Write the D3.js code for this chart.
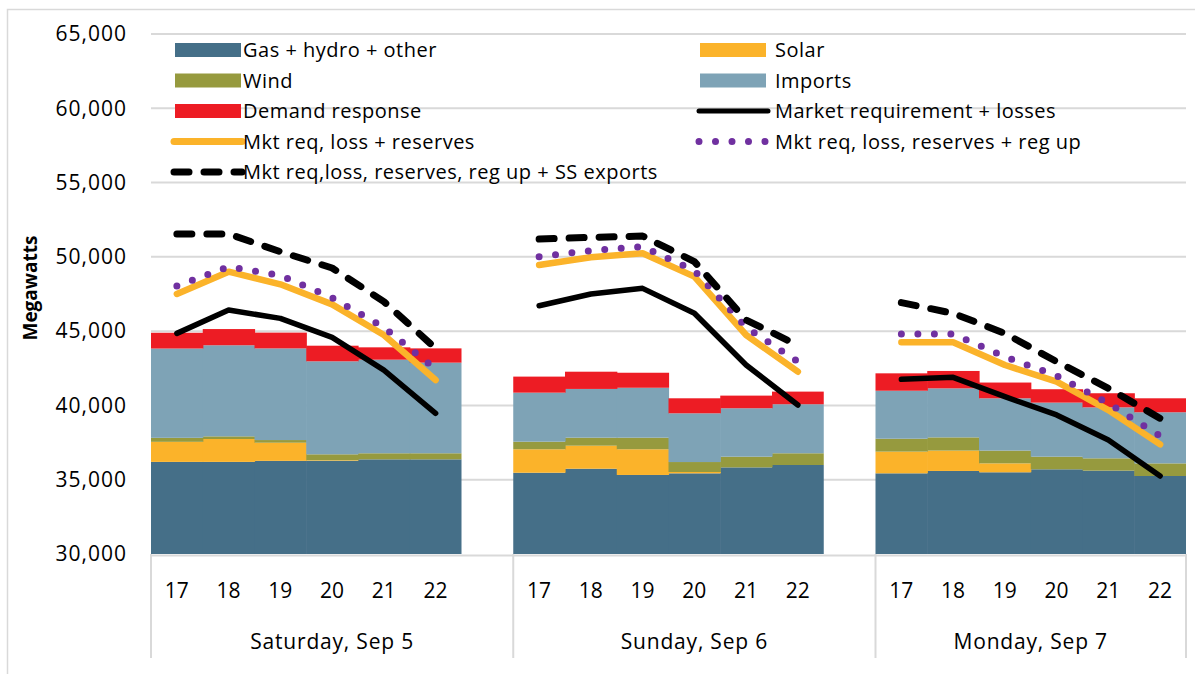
<!DOCTYPE html>
<html>
<head>
<meta charset="utf-8">
<script src="https://cdn.jsdelivr.net/npm/d3@7"></script>
<style>
  body { margin: 0; background: #fff; }
  text { font-family: "Open Sans", Lato, sans-serif; fill: #000; }
</style>
</head>
<body>
<svg id="chart" width="1195" height="674"></svg>
<script>
// categories
var days = ["Saturday, Sep 5", "Sunday, Sep 6", "Monday, Sep 7"];
var hours = [17, 18, 19, 20, 21, 22];
var yTicks = [30000, 35000, 40000, 45000, 50000, 55000, 60000, 65000];

// stacked supply (MW), Sat 17-22, Sun 17-22, Mon 17-22
var gas     = [36200, 36200, 36270, 36270, 36370, 36370,  35470, 35740, 35320, 35430, 35830, 35990,  35430, 35590, 35500, 35700, 35610, 35250];
var solar   = [1350, 1540, 1220, 40, 0, 0,                1580, 1550, 1730, 90, 0, 0,                1460, 1370, 600, 0, 0, 0];
var wind    = [270, 180, 180, 400, 410, 410,              510, 540, 780, 670, 720, 790,              870, 890, 860, 850, 830, 850];
var imports = [6010, 6130, 6170, 6260, 6300, 6100,        3300, 3280, 3360, 3280, 3260, 3300,        3230, 3300, 3520, 3640, 3430, 3440];
var dr      = [1060, 1090, 1060, 1050, 830, 960,          1080, 1160, 1010, 1010, 850, 850,          1170, 1170, 1060, 900, 950, 940];

// requirement lines (MW)
var mktReq    = [44850, 46420, 45860, 44580, 42380, 39470,  46710, 47500, 47880, 46200, 42720, 40030,  41760, 41890, 40590, 39360, 37670, 35250];
var reserves  = [47500, 49000, 48150, 46800, 44740, 41710,  49450, 49970, 50240, 48670, 44740, 42270,  44250, 44250, 42720, 41600, 39690, 37380];
var regUp     = [48040, 49340, 48750, 47250, 45250, 42450,  50010, 50420, 50690, 49070, 45260, 42950,  44810, 44810, 43280, 42000, 40140, 37950];
var ssExports = [51540, 51540, 50350, 49250, 46990, 43840,  51200, 51310, 51400, 49680, 45750, 44050,  46920, 46200, 44850, 42950, 41150, 39130];

var colors = {
    gas: "#456f88", solar: "#fbb32a", wind: "#969a3e", imports: "#7ea3b6", dr: "#ed1c24",
    reserves: "#fbb32a", regUp: "#7030a0", line: "#000"
};

var svg = d3.select("#chart");
// plot area edges (note: "top" is reserved on window, so use prefixed names)
var plotLeft = 151, plotRight = 1186, plotTop = 34, plotBottom = 554;

// build rows for stacking
var rows = [];
days.forEach(function (day, i) {
    hours.forEach(function (h, j) {
        var k = i * 6 + j;
        rows.push({
            key: i + "-" + h, day: i, hour: h,
            gas: gas[k], solar: solar[k], wind: wind[k], imports: imports[k], dr: dr[k],
            mktReq: mktReq[k], reserves: reserves[k], regUp: regUp[k], ssExports: ssExports[k]
        });
    });
});

// x domain with a blank slot after the first two days
var domain = [];
days.forEach(function (day, i) {
    hours.forEach(function (h) { domain.push(i + "-" + h); });
    if (i < days.length - 1) domain.push("gap" + i);
});

var x = d3.scaleBand().domain(domain).range([plotLeft, plotRight]).padding(0);
var y = d3.scaleLinear().domain([30000, 65000]).range([plotBottom, plotTop]).clamp(true);
var bw = x.bandwidth();

// outer frame
svg.append("rect")
    .attr("x", 7.5).attr("y", 9.5).attr("width", 1200).attr("height", 680)
    .attr("fill", "none").attr("stroke", "#d9d9d9").attr("stroke-width", 1.5);

// gridlines
svg.append("g").selectAll("line")
    .data(yTicks.slice(1))
    .enter().append("line")
    .attr("x1", plotLeft).attr("x2", plotRight)
    .attr("y1", function (d) { return y(d); })
    .attr("y2", function (d) { return y(d); })
    .attr("stroke", "#d9d9d9").attr("stroke-width", 2);

// y axis labels
var yAxis = d3.axisLeft(y).tickValues(yTicks).tickSize(0).tickPadding(24).tickFormat(d3.format(","));
var yg = svg.append("g").attr("transform", "translate(" + plotLeft + ",0)").call(yAxis);
yg.select(".domain").remove();
yg.selectAll("text")
    .style("font-size", "21px")
    .style("letter-spacing", "1px")
    .style("font-family", "'Open Sans', Lato, sans-serif")
    .attr("fill", "#000");

svg.append("text")
    .attr("transform", "translate(37,288) rotate(-90)")
    .attr("text-anchor", "middle")
    .style("font-size", "19px").style("font-weight", "bold")
    .text("Megawatts");

// stacked areas
var keys = ["gas", "solar", "wind", "imports", "dr"];
var stacked = d3.stack().keys(keys)(rows);

svg.append("g").selectAll("g")
    .data(stacked)
    .enter().append("g")
    .attr("fill", function (d) { return colors[d.key]; })
    .selectAll("rect")
    .data(function (d) { return d; })
    .enter().append("rect")
    .attr("x", function (d) { return x(d.data.key); })
    .attr("width", function (d) { return d.data.hour === 22 ? bw : bw + 0.6; })
    .attr("y", function (d) { return y(d[1]); })
    .attr("height", function (d) { return Math.max(0, y(d[0]) - y(d[1])); });

// x axis line and dividers
svg.append("line")
    .attr("x1", plotLeft).attr("x2", plotRight).attr("y1", plotBottom + 1.5).attr("y2", plotBottom + 1.5)
    .attr("stroke", "#d9d9d9").attr("stroke-width", 2);

var dividers = [plotLeft, x("gap0") + bw, x("gap1") + bw, plotRight];
svg.append("g").selectAll("line")
    .data(dividers)
    .enter().append("line")
    .attr("x1", function (d) { return d; }).attr("x2", function (d) { return d; })
    .attr("y1", plotBottom).attr("y2", 658)
    .attr("stroke", "#d9d9d9").attr("stroke-width", 2);

// hour labels
svg.append("g").selectAll("text")
    .data(rows)
    .enter().append("text")
    .attr("x", function (d) { return x(d.key) + bw / 2; })
    .attr("y", 598)
    .attr("text-anchor", "middle")
    .style("font-size", "21px")
    .text(function (d) { return d.hour; });

// day labels
svg.append("g").selectAll("text")
    .data(days)
    .enter().append("text")
    .attr("x", function (d, i) { return (dividers[i] + dividers[i + 1]) / 2; })
    .attr("y", 649)
    .attr("text-anchor", "middle")
    .style("font-size", "21px")
    .style("letter-spacing", "0.8px")
    .text(function (d) { return d; });

// requirement lines, one segment per day
var lineSeries = [
    { key: "mktReq", color: colors.line, width: 5.5, dash: null },
    { key: "reserves", color: colors.reserves, width: 6.5, dash: null },
    { key: "regUp", color: colors.regUp, width: 7, dash: "0 16.5" },
    { key: "ssExports", color: colors.line, width: 7, dash: "15 15" }
];

lineSeries.forEach(function (s) {
    var line = d3.line()
        .x(function (d) { return x(d.key) + bw / 2; })
        .y(function (d) { return y(d[s.key]); });
    days.forEach(function (day, i) {
        svg.append("path")
            .datum(rows.filter(function (r) { return r.day === i; }))
            .attr("d", line)
            .attr("fill", "none")
            .attr("stroke", s.color)
            .attr("stroke-width", s.width)
            .attr("stroke-linecap", "round")
            .attr("stroke-linejoin", "round")
            .attr("stroke-dasharray", s.dash);
    });
});

// legend
var legendItems = [
    { label: "Gas + hydro + other", type: "rect", color: colors.gas, col: 0, row: 0 },
    { label: "Solar", type: "rect", color: colors.solar, col: 1, row: 0 },
    { label: "Wind", type: "rect", color: colors.wind, col: 0, row: 1 },
    { label: "Imports", type: "rect", color: colors.imports, col: 1, row: 1 },
    { label: "Demand response", type: "rect", color: colors.dr, col: 0, row: 2 },
    { label: "Market requirement + losses", type: "line", color: colors.line, width: 5, dash: null, col: 1, row: 2 },
    { label: "Mkt req, loss + reserves", type: "line", color: colors.reserves, width: 7, dash: null, col: 0, row: 3 },
    { label: "Mkt req, loss, reserves + reg up", type: "line", color: colors.regUp, width: 7, dash: "0 16.5", col: 1, row: 3 },
    { label: "Mkt req,loss, reserves, reg up + SS exports", type: "line", color: colors.line, width: 7, dash: "15 15", col: 0, row: 4 }
];

var colX = [175, 700];
var textX = [243, 775];
var legend = svg.append("g");
legendItems.forEach(function (d) {
    var lx = colX[d.col];
    var ly = 50 + d.row * 30.5;
    if (d.type === "rect") {
        legend.append("rect")
            .attr("x", lx).attr("y", ly - 7).attr("width", 66).attr("height", 14)
            .attr("fill", d.color);
    } else {
        legend.append("line")
            .attr("x1", d.col === 0 ? lx - 1 : lx - 1).attr("x2", d.col === 0 ? lx + 67 : lx + 68)
            .attr("y1", ly).attr("y2", ly)
            .attr("stroke", d.color).attr("stroke-width", d.width)
            .attr("stroke-linecap", "round")
            .attr("stroke-dasharray", d.dash);
    }
    legend.append("text")
        .attr("x", textX[d.col]).attr("y", ly)
        .attr("dy", "0.35em")
        .style("font-size", "20px")
        .style("letter-spacing", "0.5px")
        .text(d.label);
});
</script>
</body>
</html>
